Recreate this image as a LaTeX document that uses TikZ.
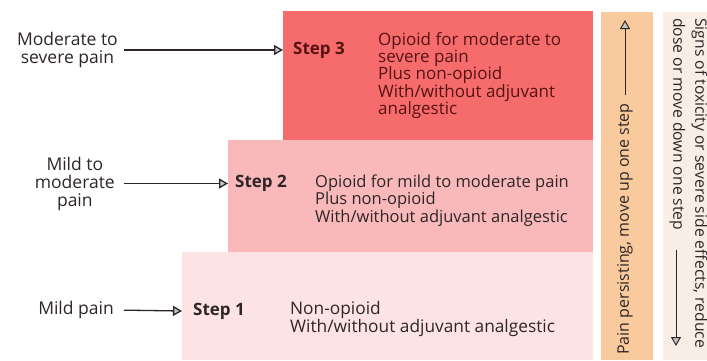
\documentclass[tikz,border=0pt]{standalone}
\usepackage{fontspec}
\setmainfont{Open Sans}
\usetikzlibrary{arrows.meta, positioning}

\definecolor{stepthree}{HTML}{F66B6C}
\definecolor{steptwo}{HTML}{F9B9BB}
\definecolor{stepone}{HTML}{FDE3E4}
\definecolor{upband}{HTML}{F9CA9D}
\definecolor{downband}{HTML}{F8EEE6}
\definecolor{ink}{HTML}{2E2626}
\definecolor{redink}{HTML}{561214}

\begin{document}
\begin{tikzpicture}[x=1pt, y=-1pt,
  painlabel/.style={align=center, inner sep=0pt, anchor=east, text=ink,
    font=\fontsize{17.5}{18}\selectfont},
  steplabel/.style={anchor=west, inner xsep=10pt, inner ysep=0pt, text=ink,
    font=\bfseries\fontsize{17}{17}\selectfont},
  desc/.style={align=left, anchor=west, inner sep=0pt, text=ink,
    font=\fontsize{16.5}{17.3}\selectfont},
  ladder/.style={draw=ink, line width=1.3pt, shorten <=6pt,
    -{Triangle[open, fill=gray!45, length=9pt, width=10pt]}},
  sidearrow/.style={draw=ink, line width=1pt,
    -{Triangle[open, fill=gray!45, length=9pt, width=10pt]}}]
  % Frame
  \useasboundingbox (0,0) rectangle (707,360);

  % Step boxes
  \fill[stepone] (182,252) rectangle (593,360);
  \fill[steptwo] (228,140) rectangle (593,252);
  \fill[stepthree] (283,11) rectangle (593,140);

  % Side bands
  \fill[upband] (601,12) rectangle (653,360);
  \fill[downband] (663,12) rectangle (707,360);

  % Pain levels
  \node[painlabel] (severe) at (118,50) {Moderate to\\severe pain};
  \node[painlabel] (moderate) at (115,183.5) {Mild to\\moderate\\pain};
  \node[painlabel] (mild) at (114,310) {Mild pain};

  % Steps
  \node[steplabel, text=redink] (step3) at (283,50) {Step 3};
  \node[steplabel, inner xsep=7pt] (step2) at (228,183.5) {Step 2};
  \node[steplabel, inner xsep=11pt] (step1) at (182,311) {Step 1};

  % Arrows
  \draw[ladder] (severe.east) -- (step3.west);
  \draw[ladder, shorten <=9pt] (moderate.east) -- (step2.west);
  \draw[ladder, shorten <=10pt] (mild.east) -- (step1.west);

  % Descriptions
  \node[desc, text=redink, font=\fontsize{17}{17.3}\selectfont] (drug3) at (378,75.5)
    {Opioid for moderate to\\severe pain\\Plus non-opioid\\With/without adjuvant\\analgestic};
  \node[desc] (drug2) at (315,200.5)
    {Opioid for mild to moderate pain\\Plus non-opioid\\With/without adjuvant analgestic};
  \node[desc, font=\fontsize{17.3}{17.3}\selectfont] (drug1) at (290,319)
    {Non-opioid\\With/without adjuvant analgestic};

  % Side notes
  \node[rotate=90, inner sep=0pt, text=ink, font=\fontsize{16}{16}\selectfont]
    (upnote) at (625,229) {Pain persisting, move up one step};
  \coordinate (upfrom) at (625,95);
  \coordinate (upto) at (625,20);
  \draw[sidearrow] (upfrom) -- (upto);

  \node[rotate=-90, anchor=north west, align=left, inner sep=0pt, text=ink,
    font=\fontsize{15.7}{22}\selectfont]
    (downnote) at (707.5,18) {Signs of toxicity or severe side effects, reduce\\dose or move down one step};
  \coordinate (downfrom) at (676,250);
  \coordinate (downto) at (676,346);
  \draw[sidearrow] (downfrom) -- (downto);
\end{tikzpicture}
\end{document}
